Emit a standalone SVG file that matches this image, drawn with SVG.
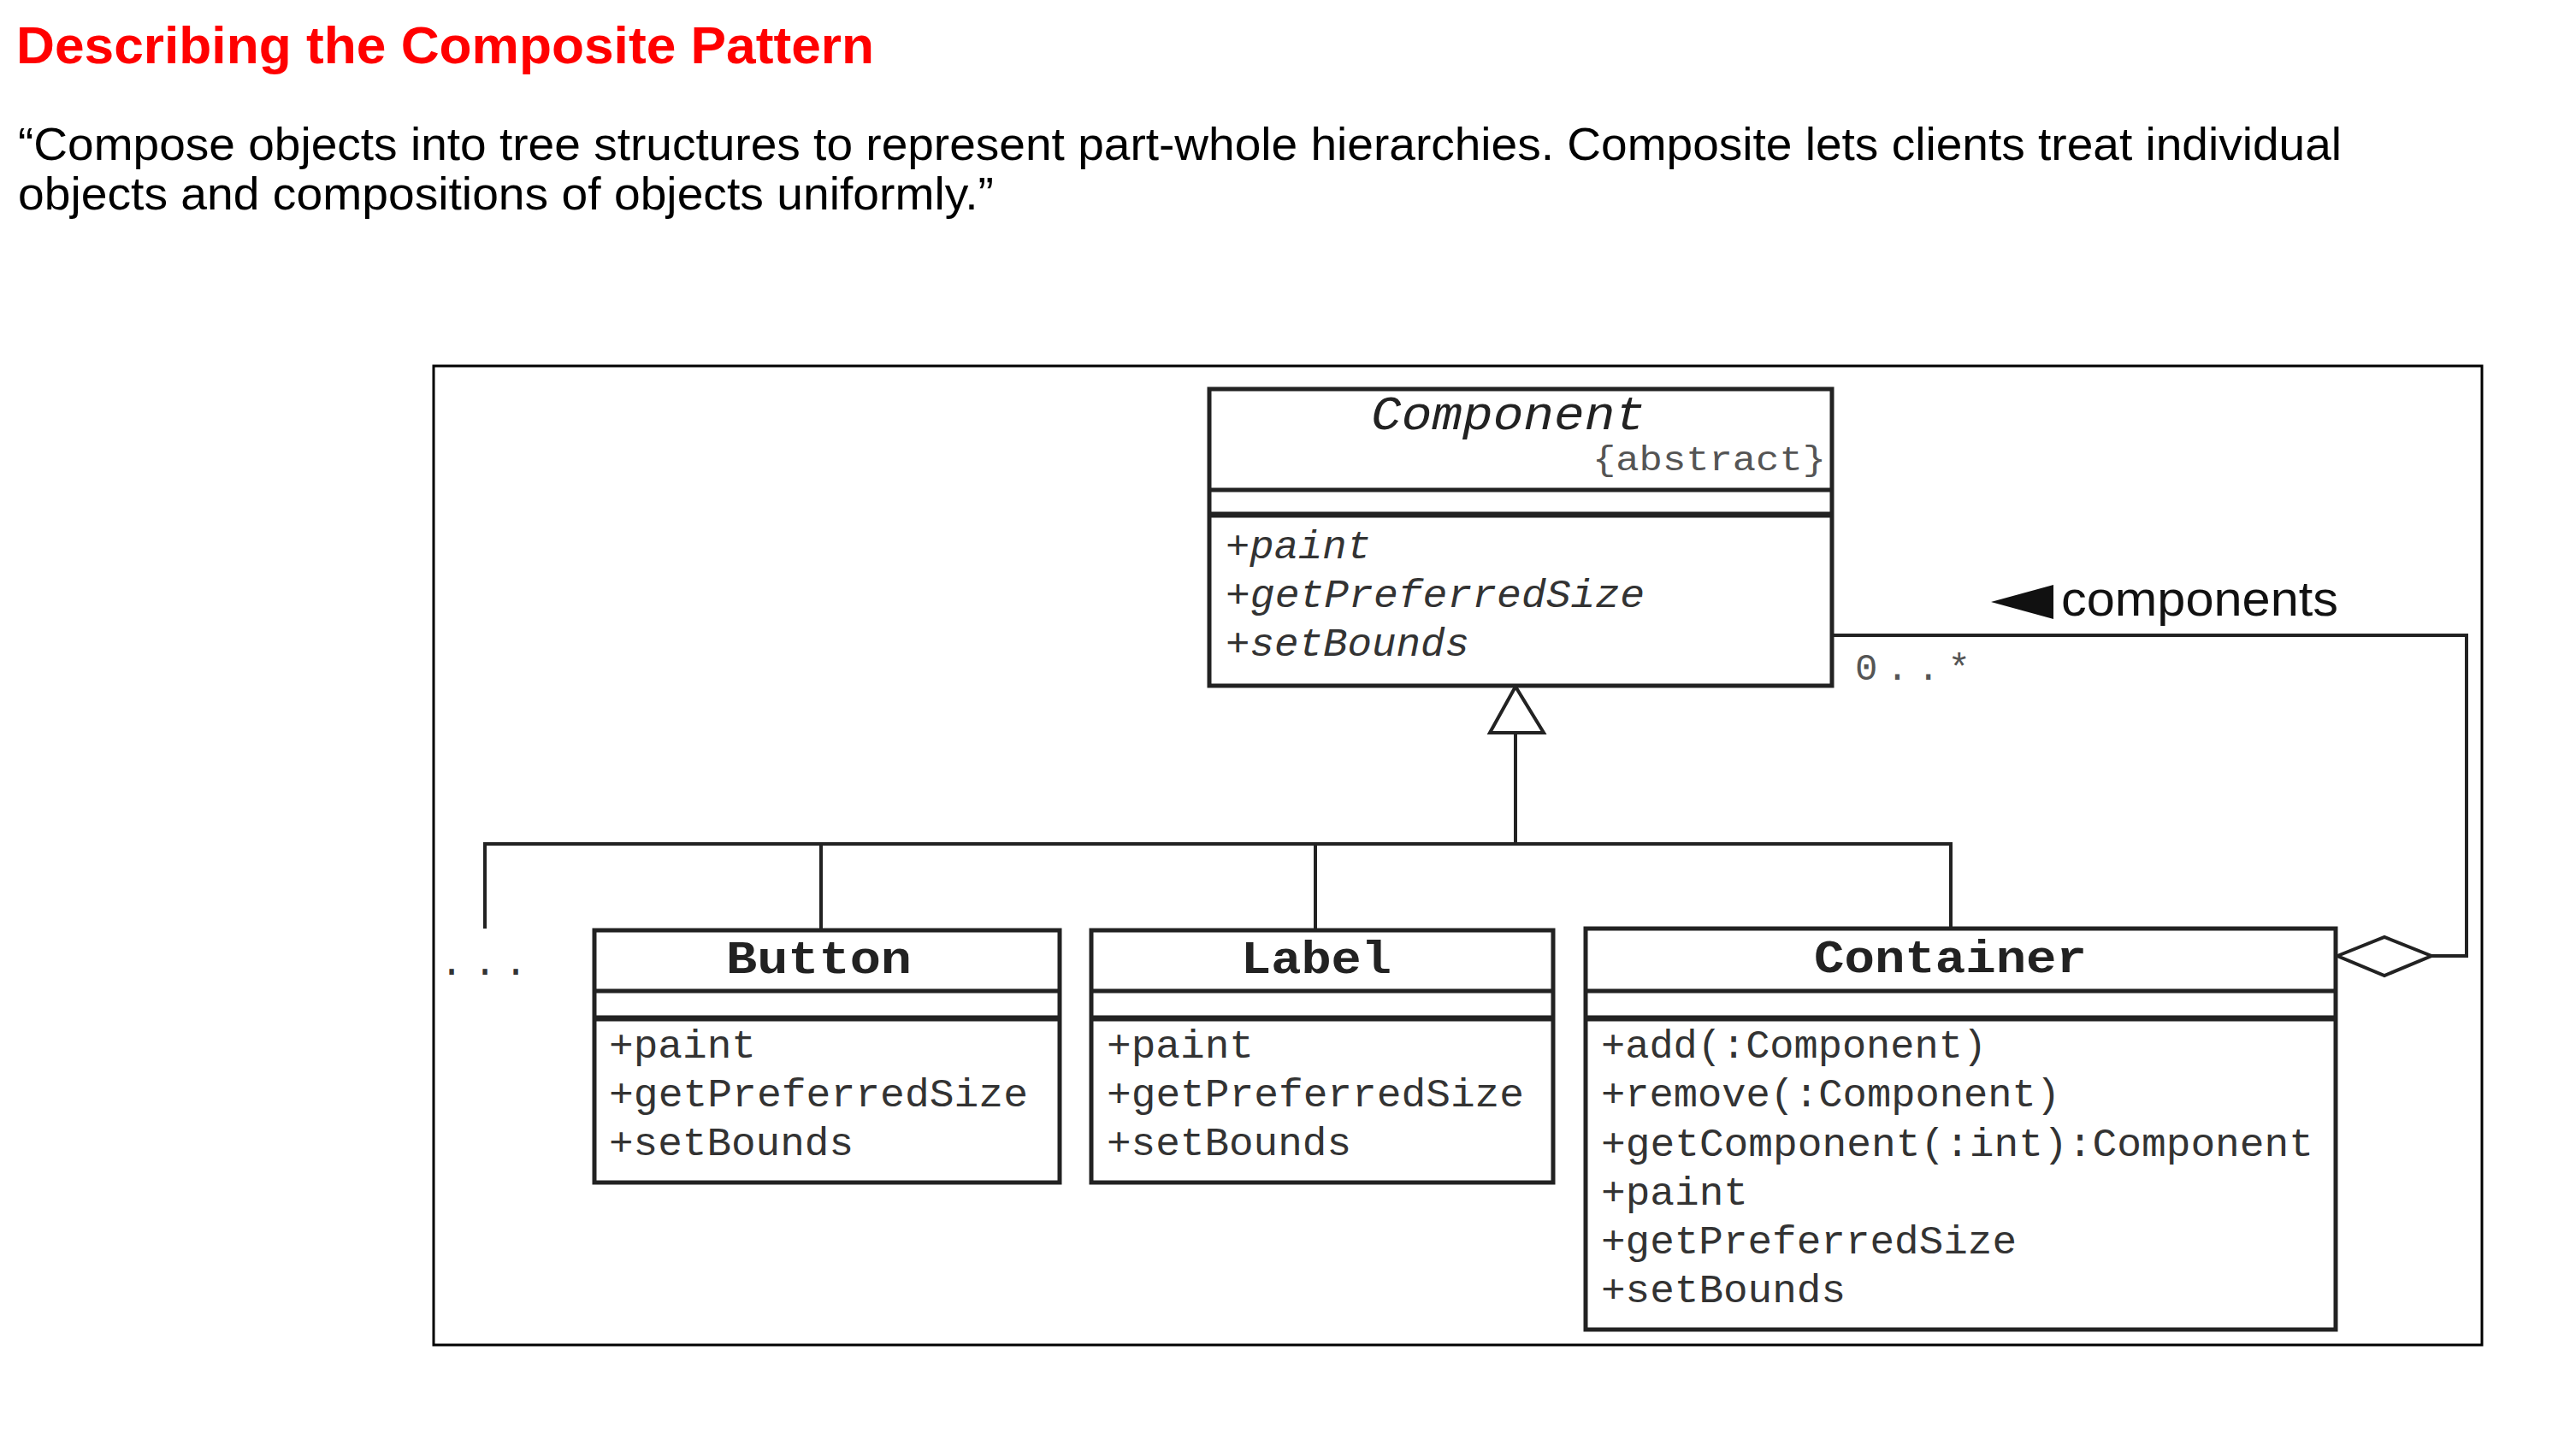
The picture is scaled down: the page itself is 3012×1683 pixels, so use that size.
<svg xmlns="http://www.w3.org/2000/svg" width="3012" height="1683" viewBox="0 0 3012 1683">
<style>
.title{font-family:"Liberation Sans",Arial,sans-serif;font-weight:bold;font-size:62px;fill:#ff0000}
.quote{font-family:"Liberation Sans",Arial,sans-serif;font-size:54px;fill:#000}
.box{fill:#fff;stroke:#222;stroke-width:5}
.sep{stroke:#222;stroke-width:5}
.sep2{stroke:#222;stroke-width:7}
.cname{font-family:"Liberation Mono","Courier New",monospace;font-size:54px;font-weight:bold;fill:#222}
.op{font-family:"Liberation Mono","Courier New",monospace;font-size:46px;fill:#333}
.it{font-style:italic}
.line{fill:none;stroke:#222;stroke-width:4}
.lbl{font-family:"Liberation Mono","Courier New",monospace;font-size:44px;fill:#555}
.assoc{font-family:"Liberation Sans",Arial,sans-serif;font-size:58px;fill:#111}
</style>
<rect width="3012" height="1683" fill="#fff"/>
<text class="title" x="19" y="74" textLength="1003" lengthAdjust="spacingAndGlyphs">Describing the Composite Pattern</text>
<text class="quote" x="21" y="187" textLength="2717" lengthAdjust="spacingAndGlyphs">“Compose objects into tree structures to represent part-whole hierarchies. Composite lets clients treat individual</text>
<text class="quote" x="21" y="245" textLength="1141" lengthAdjust="spacingAndGlyphs">objects and compositions of objects uniformly.”</text>
<rect x="507" y="428" width="2395" height="1145" fill="none" stroke="#000" stroke-width="3"/>
<g id="connectors">
<polyline class="line" points="1772,857 1772,987"/>
<polyline class="line" points="567,1086 567,987 2281,987 2281,1086"/>
<line class="line" x1="960" y1="987" x2="960" y2="1088"/>
<line class="line" x1="1538" y1="987" x2="1538" y2="1088"/>
<polygon points="1772,803 1742,857 1805,857" fill="#fff" stroke="#222" stroke-width="4" stroke-linejoin="miter"/>
<polyline class="line" points="2142,743 2884,743 2884,1118 2843,1118"/>
<polygon points="2733,1118 2788,1096 2843,1118 2788,1141" fill="#fff" stroke="#222" stroke-width="4"/>
<text class="lbl" x="2169" y="795" textLength="135" lengthAdjust="spacing">0..*</text>
<polygon points="2328,704 2401,684 2401,724" fill="#111"/>
<text class="assoc" x="2410" y="720" textLength="324" lengthAdjust="spacingAndGlyphs">components</text>
<text class="op" x="528 567 603" y="1140" text-anchor="middle" fill="#222">...</text>
</g>
<g id="component">
<rect class="box" x="1414" y="455" width="728" height="347"/>
<line class="sep" x1="1414" y1="573" x2="2142" y2="573"/>
<line class="sep2" x1="1414" y1="602" x2="2142" y2="602"/>
<text class="cname it" x="1603" y="502" textLength="321" lengthAdjust="spacingAndGlyphs" font-weight="normal" style="font-weight:normal;font-size:56px">Component</text>
<text class="lbl" x="1862" y="550" textLength="273" lengthAdjust="spacingAndGlyphs" style="font-size:40px">{abstract}</text>
<text class="op it" x="1433" y="653" textLength="170" lengthAdjust="spacingAndGlyphs">+paint</text>
<text class="op it" x="1433" y="710" textLength="490" lengthAdjust="spacingAndGlyphs">+getPreferredSize</text>
<text class="op it" x="1433" y="767" textLength="285" lengthAdjust="spacingAndGlyphs">+setBounds</text>
</g>
<g id="button">
<rect class="box" x="695" y="1088" width="544" height="295"/>
<line class="sep" x1="695" y1="1159" x2="1239" y2="1159"/>
<line class="sep2" x1="695" y1="1191" x2="1239" y2="1191"/>
<text class="cname" x="849" y="1138" textLength="217" lengthAdjust="spacingAndGlyphs">Button</text>
<text class="op" x="712" y="1237" textLength="172" lengthAdjust="spacingAndGlyphs">+paint</text>
<text class="op" x="712" y="1294" textLength="490" lengthAdjust="spacingAndGlyphs">+getPreferredSize</text>
<text class="op" x="712" y="1351" textLength="286" lengthAdjust="spacingAndGlyphs">+setBounds</text>
</g>
<g id="label">
<rect class="box" x="1276" y="1088" width="540" height="295"/>
<line class="sep" x1="1276" y1="1159" x2="1816" y2="1159"/>
<line class="sep2" x1="1276" y1="1191" x2="1816" y2="1191"/>
<text class="cname" x="1451" y="1138" textLength="176" lengthAdjust="spacingAndGlyphs">Label</text>
<text class="op" x="1294" y="1237" textLength="172" lengthAdjust="spacingAndGlyphs">+paint</text>
<text class="op" x="1294" y="1294" textLength="488" lengthAdjust="spacingAndGlyphs">+getPreferredSize</text>
<text class="op" x="1294" y="1351" textLength="286" lengthAdjust="spacingAndGlyphs">+setBounds</text>
</g>
<g id="container">
<rect class="box" x="1854" y="1086" width="877" height="469"/>
<line class="sep" x1="1854" y1="1159" x2="2731" y2="1159"/>
<line class="sep2" x1="1854" y1="1191" x2="2731" y2="1191"/>
<text class="cname" x="2121" y="1137" textLength="319" lengthAdjust="spacingAndGlyphs">Container</text>
<text class="op" x="1872" y="1237" textLength="451" lengthAdjust="spacingAndGlyphs">+add(:Component)</text>
<text class="op" x="1872" y="1294" textLength="537" lengthAdjust="spacingAndGlyphs">+remove(:Component)</text>
<text class="op" x="1872" y="1352" textLength="833" lengthAdjust="spacingAndGlyphs">+getComponent(:int):Component</text>
<text class="op" x="1872" y="1409" textLength="172" lengthAdjust="spacingAndGlyphs">+paint</text>
<text class="op" x="1872" y="1466" textLength="486" lengthAdjust="spacingAndGlyphs">+getPreferredSize</text>
<text class="op" x="1872" y="1523" textLength="286" lengthAdjust="spacingAndGlyphs">+setBounds</text>
</g>
</svg>
